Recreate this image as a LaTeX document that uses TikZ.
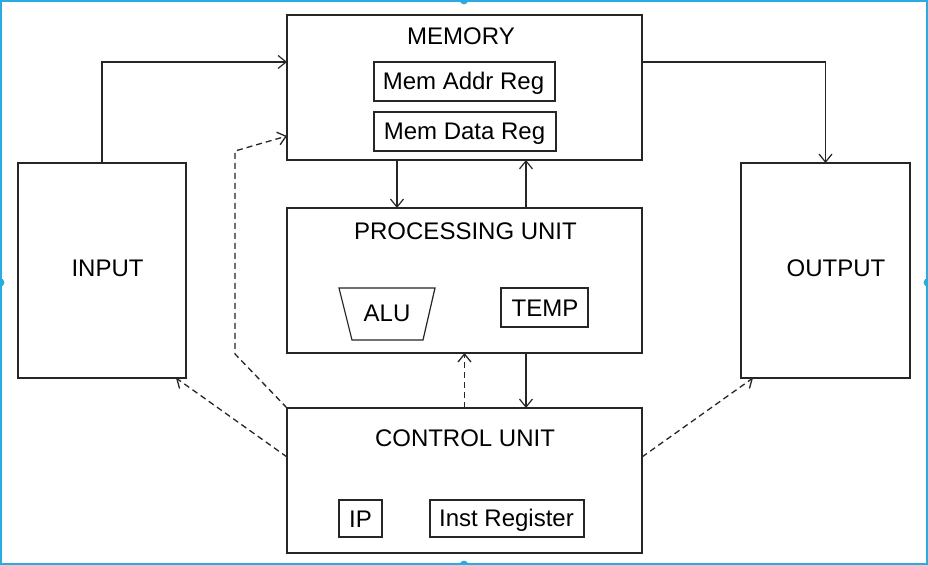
\documentclass[tikz,border=0pt]{standalone}
\usepackage{fontspec}
\setmainfont{Liberation Sans}
\usetikzlibrary{arrows.meta}
\definecolor{selblue}{RGB}{41,171,226}
\begin{document}
\begin{tikzpicture}[x=0.5pt,y=-0.5pt,
  box/.style={draw=black!85,line width=0.6pt,rectangle,inner sep=0pt,outer sep=0pt},
  txt/.style={inner sep=0pt,text height=8.6pt,text depth=0pt,font=\fontsize{12}{14}\selectfont},
  arr/.style={draw=black!85,line width=0.6pt,-{Straight Barb[length=4pt,width=6.5pt]}},
  darr/.style={arr,line width=0.65pt,dash pattern=on 3pt off 2pt}]
\useasboundingbox (0,0) rectangle (928,565);
\fill[white] (0,0) rectangle (928,565);
% selection frame
\draw[selblue,line width=1pt] (1,1) rectangle (927,564);
\fill[selblue] (0,282.5) circle (2.2pt) (928,282.5) circle (2.2pt)
  (464,0) circle (2.2pt) (464,565) circle (2.2pt);
% boxes
\node[box,minimum width=177.5pt,minimum height=72.5pt] (mem) at (464.5,87.5) {};
\node[box,minimum width=90.5pt,minimum height=19.5pt] (mar) at (464.5,81.5) {};
\node[box,minimum width=91pt,minimum height=19.5pt] (mdr) at (465,131.5) {};
\node[box,minimum width=84pt,minimum height=107.5pt] (input) at (102,270.5) {};
\node[box,minimum width=84.5pt,minimum height=107.5pt] (output) at (825.5,270.5) {};
\node[box,minimum width=177.5pt,minimum height=72.5pt] (pu) at (464.5,280.5) {};
\draw[draw=black!85,line width=0.6pt] (339,288) -- (435,288) -- (423,340) -- (352,340) -- cycle;
\node[box,minimum width=43.5pt,minimum height=19.5pt] (temp) at (544.5,307.5) {};
\node[box,minimum width=177.5pt,minimum height=72.5pt] (cu) at (464.5,480.5) {};
\node[box,minimum width=21.5pt,minimum height=18.5pt] (ip) at (360.5,518.5) {};
\node[box,minimum width=77pt,minimum height=18.5pt] (ir) at (507,518.5) {};
% texts
\node[txt] (memt) at (461,36) {MEMORY};
\node[txt] (mart) at (463.5,81) {Mem Addr Reg};
\node[txt] (mdrt) at (464.5,131) {Mem Data Reg};
\node[txt] (inpt) at (107.5,268) {INPUT};
\node[txt] (outt) at (836,268) {OUTPUT};
\node[txt] (put) at (465.5,231) {PROCESSING UNIT};
\node[txt] (alut) at (387,313) {ALU};
\node[txt] (tempt) at (545,308) {TEMP};
\node[txt] (cut) at (465,438) {CONTROL UNIT};
\node[txt] (ipt) at (360.5,519) {IP};
\node[txt] (irt) at (506.5,518) {Inst Register};
% connectors
\draw[arr] (input.north) |- ([yshift=12.75pt]mem.west);
\draw[arr] ([yshift=12.75pt]mem.east) -| (output.north);
\draw[arr] ([xshift=-33.75pt]mem.south) -- ([xshift=-33.75pt]pu.north);
\draw[arr] ([xshift=30.75pt]pu.north) -- ([xshift=30.75pt]mem.south);
\draw[arr] ([xshift=30.75pt]pu.south) -- ([xshift=30.75pt]cu.north);
\draw[darr] (cu.north) -- (pu.south);
\coordinate (c1) at (235,354);
\coordinate (c2) at (235,151);
\draw[darr] (cu.north west) -- (c1) -- (c2) -- ([yshift=-24.25pt]mem.west);
\draw[darr] ([yshift=11.75pt]cu.west) -- ([xshift=-5pt]input.south east);
\draw[darr] ([yshift=11.75pt]cu.east) -- ([xshift=6pt]output.south west);
\end{tikzpicture}
\end{document}
